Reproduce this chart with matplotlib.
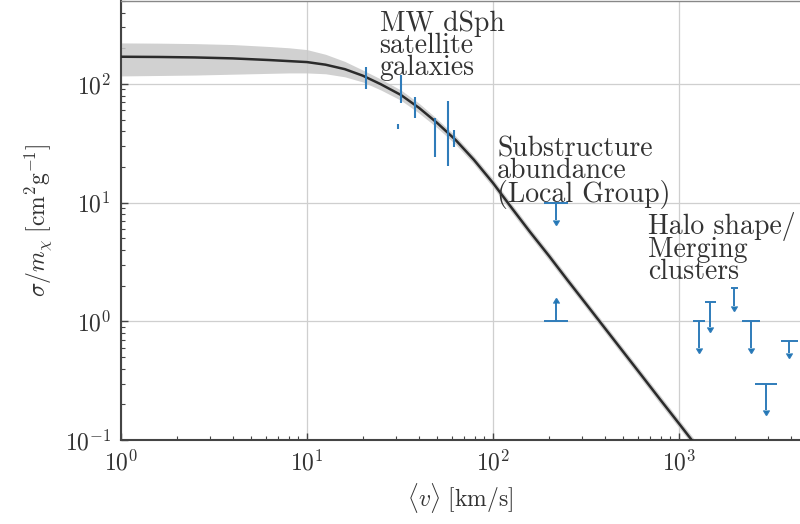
import numpy as np
import matplotlib
matplotlib.use("Agg")
import matplotlib.pyplot as plt

# ---------------- data ----------------
# model curve and its uncertainty band
curve_v = [1, 1.6, 2.5, 4, 6.3, 8, 10, 12.6, 16, 20, 25, 32, 40, 50, 63, 79, 100,
           126, 158, 200, 251, 316, 398, 501, 631, 794, 1000, 1259]
curve_sigma = [169.8, 169.0, 167.5, 164.4, 159.2, 156.0, 153.1, 145.5, 133.4, 117.5,
               99.5, 80.9, 63.1, 47.2, 33.8, 23.0, 14.7, 9.06, 5.69, 3.57, 2.24,
               1.41, 0.885, 0.556, 0.349, 0.219, 0.138, 0.0865]
band_upper = [222, 221, 219, 215, 207, 202, 195, 178, 155, 131, 110, 89, 69, 51,
              36.5, 24.8, 15.9, 9.8, 6.15, 3.86, 2.42, 1.52, 0.955, 0.6, 0.377,
              0.237, 0.149, 0.094]
band_lower = [117, 118, 119, 121, 123, 124, 124, 122, 115, 104, 89, 73, 57, 43, 31,
              21.2, 13.5, 8.3, 5.23, 3.28, 2.06, 1.3, 0.815, 0.512, 0.321, 0.201,
              0.127, 0.08]

# MW dSph satellite galaxies (measurements with error bars)
dsph_v = [20.8, 31.0, 32.0, 38.0, 48.8, 57.0, 62.0]
dsph_sigma = [112, 43.5, 91, 64, 36, 38, 35]
dsph_low = [91, 41.5, 69, 52, 24.4, 20.4, 29.5]
dsph_high = [139, 46, 119, 78, 52, 72, 41]

# Substructure abundance (Local Group): upper and lower limits
sub_up_v = [218]
sub_up_sigma = [10.0]
sub_up_end = [7.2]
sub_lo_v = [218]
sub_lo_sigma = [1.0]
sub_lo_end = [1.42]

# Halo shape / merging clusters: upper limits
cl_v = [1281, 1468, 1977, 2438, 2937, 3900]
cl_sigma = [1.0, 1.47, 1.93, 1.0, 0.295, 0.68]
cl_end = [0.60, 0.89, 1.34, 0.60, 0.178, 0.54]
cl_capw = [12, 11, 7, 18, 22, 17]  # cap widths (style, px)

xticks = [1, 10, 100, 1000]
xticklabels = [r'$10^{0}$', r'$10^{1}$', r'$10^{2}$', r'$10^{3}$']
yticks = [0.1, 1, 10, 100]
yticklabels = [r'$10^{-1}$', r'$10^{0}$', r'$10^{1}$', r'$10^{2}$']

# ---------------- style ----------------
plt.rcParams['mathtext.fontset'] = 'cm'
plt.rcParams['font.family'] = ['cmr10', 'DejaVu Serif']
plt.rcParams['axes.formatter.use_mathtext'] = True

blue = '#2f7cba'

fig = plt.figure(figsize=(8.0, 5.24), dpi=100)
ax = fig.add_axes([0.151, 0.160, 0.849, 0.838])
ax.set_xscale('log')
ax.set_yscale('log')
ax.set_xlim(1, 4470)
ax.set_ylim(0.1, 500)

ax.grid(True, which='major', color='#cfcfcf', lw=0.9)
ax.set_axisbelow(True)

# band + curve
ax.fill_between(curve_v, band_lower, band_upper, color='#c9c9c9', alpha=0.85, lw=0, zorder=2)
ax.plot(curve_v, curve_sigma, color='#2b2b2b', lw=1.8, zorder=3)

# dSph points
dsph_v_a = np.array(dsph_v)
dsph_s_a = np.array(dsph_sigma)
yerr = [dsph_s_a - np.array(dsph_low), np.array(dsph_high) - dsph_s_a]
ax.errorbar(dsph_v_a, dsph_s_a, yerr=yerr, fmt='none', ecolor=blue, elinewidth=1.5,
            capsize=0, zorder=4)

# limits
with plt.rc_context({'lines.markersize': 4.5}):
    # upper limits (substructure)
    s = np.array(sub_up_sigma)
    ax.errorbar(sub_up_v, s, yerr=[s - np.array(sub_up_end), np.zeros_like(s)],
                uplims=True, fmt='none', ecolor=blue, elinewidth=1.4, capsize=0, zorder=4)
    ax.plot(sub_up_v, sub_up_sigma, ls='none', marker='_', ms=17, mew=1.4, color=blue, zorder=4)
    # lower limits (substructure)
    s = np.array(sub_lo_sigma)
    ax.errorbar(sub_lo_v, s, yerr=[np.zeros_like(s), np.array(sub_lo_end) - s],
                lolims=True, fmt='none', ecolor=blue, elinewidth=1.4, capsize=0, zorder=4)
    ax.plot(sub_lo_v, sub_lo_sigma, ls='none', marker='_', ms=17, mew=1.4, color=blue, zorder=4)
    # clusters
    s = np.array(cl_sigma)
    ax.errorbar(cl_v, s, yerr=[s - np.array(cl_end), np.zeros_like(s)],
                uplims=True, fmt='none', ecolor=blue, elinewidth=1.4, capsize=0, zorder=4)
    for v, sg, w in zip(cl_v, cl_sigma, cl_capw):
        ax.plot([v], [sg], ls='none', marker='_', ms=w * 0.72, mew=1.4, color=blue, zorder=4)

# annotations
txt_kw = dict(transform=ax.transAxes, ha='left', va='top', fontsize=20,
              linespacing=0.78, color='#333333', zorder=5)
ax.text(0.381, 0.978, 'MW dSph\nsatellite\ngalaxies', **txt_kw)
ax.text(0.554, 0.692, 'Substructure\nabundance\n(Local Group)', **txt_kw)
ax.text(0.776, 0.519, 'Halo shape/\nMerging\nclusters', **txt_kw)

# ticks
ax.set_xticks(xticks)
ax.set_xticklabels(xticklabels)
ax.set_yticks(yticks)
ax.set_yticklabels(yticklabels)
ax.tick_params(which='both', direction='in', top=False, right=False, colors='#444444',
               labelcolor='#333333')
ax.tick_params(which='major', length=5, width=1.0, labelsize=17, pad=7)
ax.tick_params(which='minor', length=3, width=0.8)

ax.set_xlabel(r'$\langle v\rangle\ [\mathrm{km/s}]$', fontsize=17, color='#333333', labelpad=4)
ax.set_ylabel(r'$\sigma/m_\chi\ [\mathrm{cm}^2\mathrm{g}^{-1}]$', fontsize=17, color='#333333',
              labelpad=8)

for side in ['left', 'bottom']:
    ax.spines[side].set_color('#444444')
    ax.spines[side].set_linewidth(1.5)
ax.spines['top'].set_color('#888888')
ax.spines['top'].set_linewidth(1.0)
ax.spines['right'].set_visible(False)

fig.savefig('out.png', dpi=100)
